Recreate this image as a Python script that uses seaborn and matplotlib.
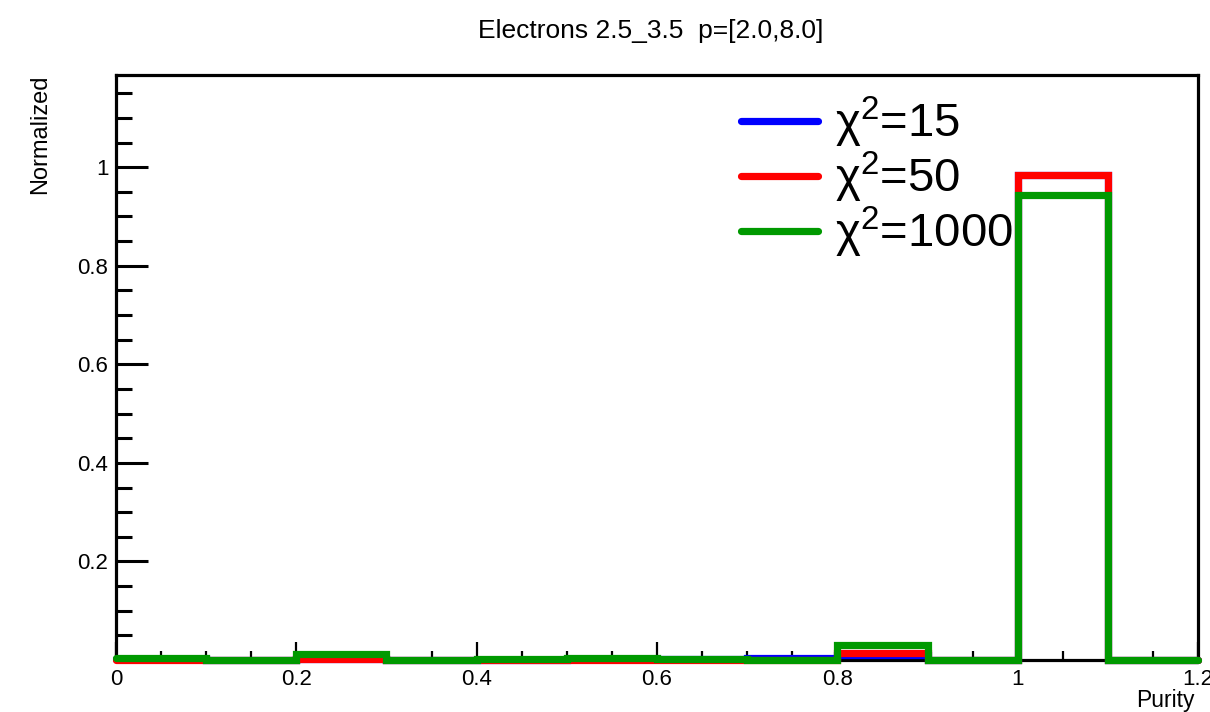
import numpy as np
import matplotlib
matplotlib.use("Agg")
import matplotlib.pyplot as plt
import seaborn as sns
from matplotlib.lines import Line2D
from matplotlib.ticker import MultipleLocator, FixedLocator

bin_edges = [0.0, 0.1, 0.2, 0.3, 0.4, 0.5, 0.6, 0.7, 0.8, 0.9, 1.0, 1.1, 1.2]
blue_vals = [0.002, 0.000, 0.002, 0.000, 0.001, 0.002, 0.002, 0.004, 0.010, 0.000, 0.984, 0.000]
red_vals = [0.000, 0.000, 0.002, 0.000, 0.000, 0.001, 0.001, 0.001, 0.015, 0.000, 0.984, 0.000]
green_vals = [0.004, 0.001, 0.013, 0.001, 0.002, 0.005, 0.003, 0.001, 0.031, 0.000, 0.943, 0.000]
series_labels = ["χ$^{2}$=15", "χ$^{2}$=50", "χ$^{2}$=1000"]
series_colors = ["#0000ff", "#ff0000", "#009900"]
title = "Electrons 2.5_3.5  p=[2.0,8.0]"
xlabel = "Purity"
ylabel = "Normalized"
xtick_vals = [0, 0.2, 0.4, 0.6, 0.8, 1.0, 1.2]
xtick_labels = ["0", "0.2", "0.4", "0.6", "0.8", "1", "1.2"]
ytick_vals = [0.2, 0.4, 0.6, 0.8, 1.0]
ytick_labels = ["0.2", "0.4", "0.6", "0.8", "1"]

sns.set_theme(style="white")
plt.rcParams["font.family"] = ["Liberation Sans", "DejaVu Sans"]
plt.rcParams["text.color"] = "black"
plt.rcParams["mathtext.fontset"] = "custom"
plt.rcParams["mathtext.rm"] = "Liberation Sans"
plt.rcParams["mathtext.it"] = "Liberation Sans"
plt.rcParams["mathtext.default"] = "regular"

fig = plt.figure(figsize=(12.10, 7.12), dpi=100)
ax = fig.add_axes([116 / 1210, 52 / 712, (1198 - 116) / 1210, (660 - 75) / 712])

centers = [(bin_edges[i] + bin_edges[i + 1]) / 2 for i in range(len(bin_edges) - 1)]
for vals, lab, col in zip([blue_vals, red_vals, green_vals], series_labels, series_colors):
    sns.histplot(x=centers, weights=vals, bins=bin_edges, element="step", fill=False,
                 color=col, linewidth=5.2, ax=ax, label=lab)

for ln in ax.lines:
    ln.set_clip_on(False)
    ln.set_zorder(3)
    ln.set_solid_joinstyle("miter")

ax.set_xlim(0, 1.2)
ax.set_ylim(0, 1.187)

for s in ax.spines.values():
    s.set_color("black")
    s.set_linewidth(2.3)
    s.set_zorder(2.5)

ax.xaxis.set_major_locator(FixedLocator(xtick_vals))
ax.set_xticklabels(xtick_labels)
ax.xaxis.set_minor_locator(MultipleLocator(0.05))
ax.yaxis.set_major_locator(FixedLocator(ytick_vals))
ax.set_yticklabels(ytick_labels)
ax.yaxis.set_minor_locator(MultipleLocator(0.05))

ax.tick_params(axis="x", which="major", direction="in", length=13, width=1.6,
               labelsize=16, pad=6.5, colors="black", bottom=True, top=False)
ax.tick_params(axis="x", which="minor", direction="in", length=6.5, width=1.6,
               colors="black", bottom=True, top=False)
ax.tick_params(axis="y", which="major", direction="in", length=23, width=2.2,
               labelsize=16, pad=5.5, colors="black", left=True, right=False)
ax.tick_params(axis="y", which="minor", direction="in", length=11.5, width=2.2,
               colors="black", left=True, right=False)
ax.set_xlabel("")
ax.set_ylabel("")

fig.text(1195 / 1210, 1 - 700 / 712, xlabel, ha="right", va="center", fontsize=16.5, color="black")
fig.text(40 / 1210, 1 - 75 / 712, ylabel, ha="center", va="top", rotation=90, fontsize=17, color="black")
fig.text(651 / 1210, 1 - 31 / 712, title, ha="center", va="center", fontsize=19, color="black")

handles = [Line2D([], [], color=c, linewidth=5.2) for c in series_colors]
leg = ax.legend(handles, series_labels, loc="upper left",
                bbox_to_anchor=((741 - 116) / (1198 - 116), 1 - (95 - 75) / (660 - 75)),
                frameon=False, fontsize=34, handlelength=1.64, handletextpad=0.36,
                labelspacing=0.0, borderaxespad=0, borderpad=0, labelcolor="black")

fig.savefig("out.png", dpi=100)
